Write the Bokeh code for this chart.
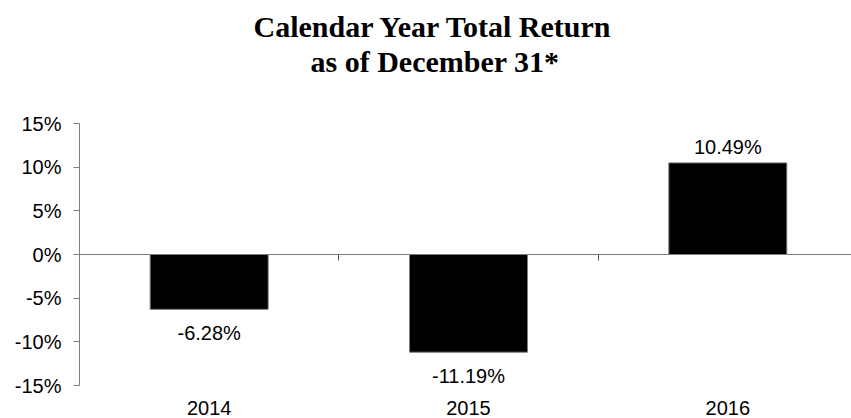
from bokeh.plotting import figure
from bokeh.models import (ColumnDataSource, Range1d, FixedTicker, LinearAxis,
                          PrintfTickFormatter, Title)
from bokeh.core.properties import value
from bokeh.embed import file_html
from bokeh.resources import INLINE

years = ["2014", "2015", "2016"]
returns = [-6.28, -11.19, 10.49]
y_ticks = [-15, -10, -5, 0, 5, 10, 15]
title_lines = ["Calendar Year Total Return", "as of December 31*"]

xs = list(range(len(years)))
labels = [f"{v:.2f}%" for v in returns]
offsets = [23.5 if v < 0 else -16 for v in returns]

src = ColumnDataSource(dict(x=xs, top=returns, label=labels, off=offsets))

p = figure(width=851, height=418, output_backend="svg", toolbar_location=None,
           x_range=Range1d(-0.5, 2.477), y_range=Range1d(-15, 15),
           min_border_left=79, min_border_right=0, min_border_top=123,
           min_border_bottom=33, x_axis_type=None, y_axis_type=None,
           outline_line_color=None, background_fill_color="white",
           border_fill_color="white")
p.title = None
p.grid.visible = False

# y axis
yax = LinearAxis(ticker=FixedTicker(ticks=y_ticks),
                 formatter=PrintfTickFormatter(format="%d%%"))
yax.axis_line_color = "#7f7f7f"
yax.major_tick_line_color = "#7f7f7f"
yax.major_tick_in = 0
yax.major_tick_out = 6
yax.minor_tick_line_color = None
yax.major_label_text_font = "Liberation Sans"
yax.major_label_text_font_size = "20px"
yax.major_label_text_color = "black"
yax.major_label_standoff = 12
p.add_layout(yax, "left")

# category labels axis
xax = LinearAxis(ticker=FixedTicker(ticks=xs),
                 major_label_overrides={i: y for i, y in enumerate(years)})
xax.axis_line_color = None
xax.major_tick_line_color = None
xax.minor_tick_line_color = None
xax.major_label_text_font = "Liberation Sans"
xax.major_label_text_font_size = "20px"
xax.major_label_text_color = "black"
xax.major_label_standoff = 9
p.add_layout(xax, "below")

# zero axis with category separators
zax = LinearAxis(fixed_location=0,
                 ticker=FixedTicker(ticks=[i + 0.5 for i in xs[:-1]]),
                 major_label_overrides={i + 0.5: "" for i in xs[:-1]})
zax.axis_line_color = "#7f7f7f"
zax.major_tick_line_color = "#555555"
zax.major_tick_in = 0
zax.major_tick_out = 6
zax.minor_tick_line_color = None
zax.major_label_text_font_size = "0px"
zax.major_label_standoff = 0
p.add_layout(zax, "below")

p.vbar(x="x", top="top", bottom=0, width=0.455, source=src,
       fill_color="black", line_color="#7f7f7f", line_width=1)

p.text(x="x", y="top", text="label", y_offset="off", source=src,
       text_align="center", text_baseline="middle",
       text_font=value("Liberation Sans"), text_font_size="20px",
       text_color="black")

# title: blank spacer nearest the frame, then the two lines
p.add_layout(Title(text=" ", standoff=0, text_font_size="40px"), "above")
for t, off in zip(reversed(title_lines), [231, 174]):
    p.add_layout(Title(text=t, align="left", offset=off,
                       text_font="Liberation Serif",
                       text_font_size="30px", text_font_style="bold",
                       text_color="black", standoff=0), "above")

open("out.html", "w").write(file_html(p, INLINE))
